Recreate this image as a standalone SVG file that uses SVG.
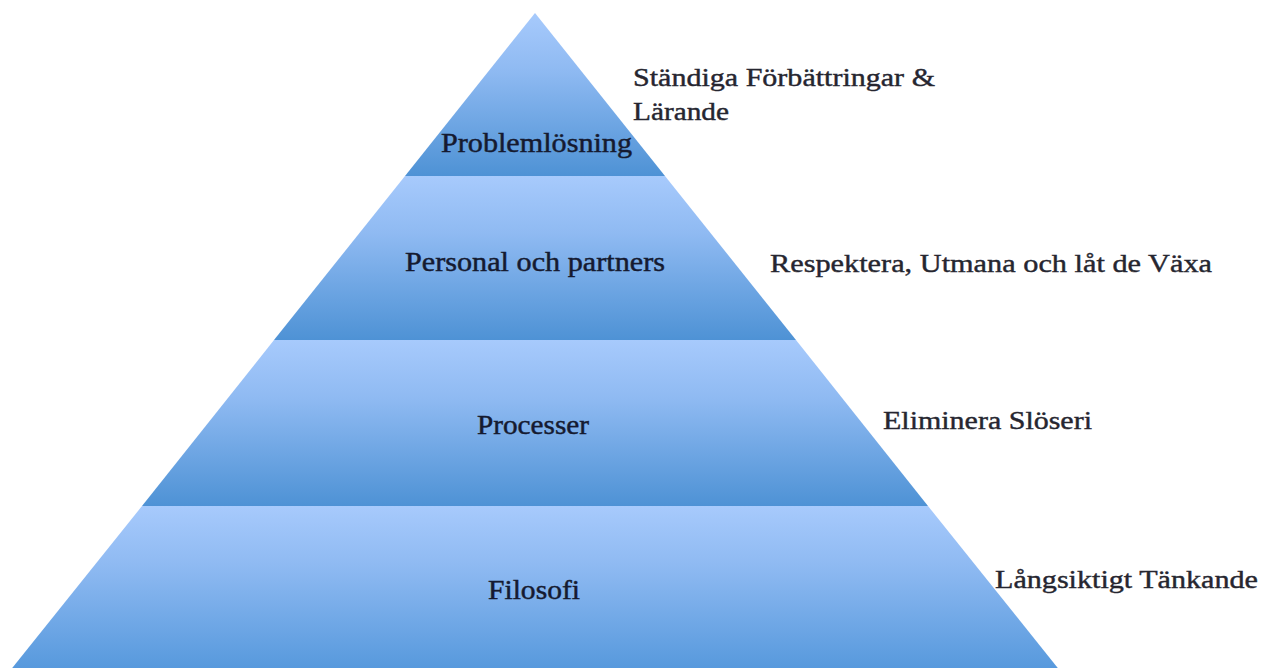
<svg xmlns="http://www.w3.org/2000/svg" width="1274" height="668" viewBox="0 0 1274 668">
  <style>
    .tier { fill: url(#tierFill); }
    .lbl { font-family: "Liberation Serif", "Times New Roman", Times, serif; font-size: 27px; fill: #151a30; stroke: #151a30; stroke-width: 0.45px; }
    .side { font-family: "Liberation Serif", "Times New Roman", Times, serif; font-size: 25px; fill: #262630; stroke: #262630; stroke-width: 0.4px; }
  </style>
  <defs>
    <linearGradient id="tierFill" x1="0" y1="0" x2="0" y2="1">
      <stop offset="0" stop-color="#a7cafc"/>
      <stop offset="0.35" stop-color="#8fbaf2"/>
      <stop offset="1" stop-color="#4e92d5"/>
    </linearGradient>
    <linearGradient id="baseFill" x1="0" y1="0" x2="0" y2="1">
      <stop offset="0" stop-color="#a7cafc"/>
      <stop offset="0.35" stop-color="#8fbaf2"/>
      <stop offset="1" stop-color="#5598dc"/>
    </linearGradient>
  </defs>

  <rect width="1274" height="668" fill="#ffffff"/>

  <!-- pyramid tiers, top to bottom -->
  <g id="tier-problemlosning">
    <polygon class="tier" points="535,13 665,176 405,176"/>
    <text class="lbl" x="441" y="152" textLength="191" lengthAdjust="spacingAndGlyphs">Problemlösning</text>
  </g>
  <g id="tier-personal">
    <polygon class="tier" points="405,176 665,176 796,340 274,340"/>
    <text class="lbl" x="405" y="271" textLength="260" lengthAdjust="spacingAndGlyphs">Personal och partners</text>
  </g>
  <g id="tier-processer">
    <polygon class="tier" points="274,340 796,340 928,506 142,506"/>
    <text class="lbl" x="477" y="434" textLength="112" lengthAdjust="spacingAndGlyphs">Processer</text>
  </g>
  <g id="tier-filosofi">
    <polygon points="142,506 928,506 1061,672 9,672" fill="url(#baseFill)"/>
    <text class="lbl" x="488" y="599" textLength="92" lengthAdjust="spacingAndGlyphs">Filosofi</text>
  </g>

  <!-- descriptions beside each tier -->
  <g id="note-larande">
    <text class="side" x="633" y="86" textLength="302" lengthAdjust="spacingAndGlyphs">Ständiga Förbättringar &amp;</text>
    <text class="side" x="633" y="120" textLength="96" lengthAdjust="spacingAndGlyphs">Lärande</text>
  </g>
  <g id="note-respekt">
    <text class="side" x="770" y="272" textLength="442" lengthAdjust="spacingAndGlyphs">Respektera, Utmana och låt de Växa</text>
  </g>
  <g id="note-sloseri">
    <text class="side" x="883" y="429" textLength="209" lengthAdjust="spacingAndGlyphs">Eliminera Slöseri</text>
  </g>
  <g id="note-tankande">
    <text class="side" x="995" y="588" textLength="263" lengthAdjust="spacingAndGlyphs">Långsiktigt Tänkande</text>
  </g>

  <g id="connectors"/>
</svg>
